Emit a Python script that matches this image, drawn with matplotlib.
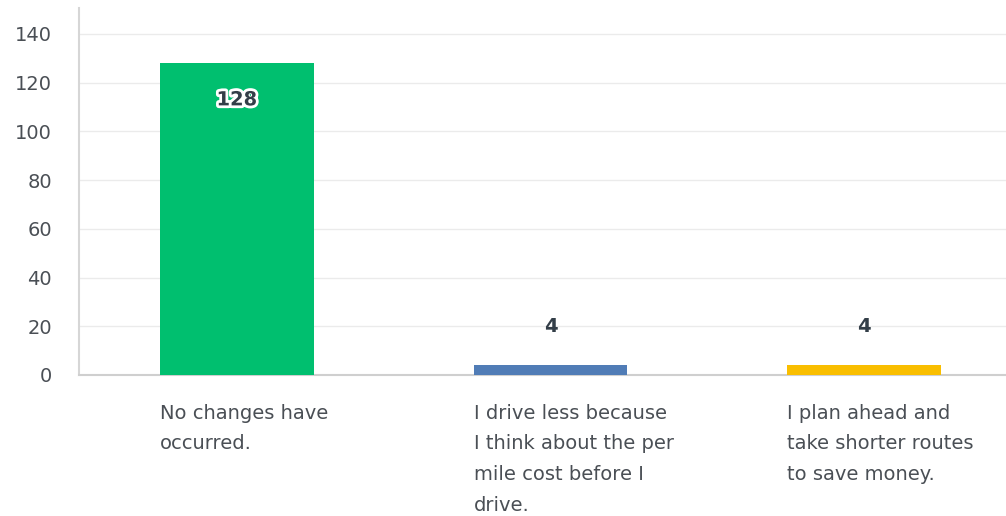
import matplotlib.pyplot as plt
import matplotlib.patheffects as pe
import matplotlib.transforms as mtransforms

categories = [
    "No changes have\noccurred.",
    "I drive less because\nI think about the per\nmile cost before I\ndrive.",
    "I plan ahead and\ntake shorter routes\nto save money.",
]
counts = [128, 4, 4]
colors = ["#00bf6f", "#507cb6", "#f9be00"]
yticks = [0, 20, 40, 60, 80, 100, 120, 140]

plt.rcParams["font.family"] = ["DejaVu Sans"]

fig = plt.figure(figsize=(10.06, 5.16), dpi=100)
ax = fig.add_axes([0.0785, 0.2733, 0.9215, 0.7112])

width = 0.49
xs = list(range(len(counts)))
bars = ax.bar(xs, counts, width=width, color=colors, zorder=3)

ax.set_xlim(-0.504, 2.453)
ax.set_ylim(0, 150.6)
ax.set_yticks(yticks)
ax.tick_params(axis="y", length=0, pad=19.5, labelsize=14, labelcolor="#4a4f55")
ax.set_xticks([])

ax.grid(axis="y", color="#ebebeb", linewidth=1, zorder=0)
for side in ["top", "right"]:
    ax.spines[side].set_visible(False)
ax.spines["left"].set_color("#d6d6d6")
ax.spines["left"].set_linewidth(1.5)
ax.spines["bottom"].set_color("#cfcfcf")
ax.spines["bottom"].set_linewidth(1.5)

# value labels: inside a tall bar, above a short one
for x, v in zip(xs, counts):
    if v > 20:
        ax.annotate(str(v), (x, v), xytext=(0, -26.5), textcoords="offset points",
                    ha="center", va="center", fontsize=14, fontweight="bold",
                    color="#333e48",
                    path_effects=[pe.withStroke(linewidth=4, foreground="white")],
                    zorder=4)
    else:
        ax.annotate(str(v), (x, v), xytext=(0, 28), textcoords="offset points",
                    ha="center", va="center", fontsize=14, fontweight="bold",
                    color="#333e48", zorder=4)

# category labels, left-aligned under each bar
trans = mtransforms.blended_transform_factory(ax.transData, ax.transAxes)
for x, name in zip(xs, categories):
    ax.text(x - width / 2, -0.078, name, transform=trans, ha="left", va="top",
            fontsize=14, color="#4a4f55", linespacing=1.79)

fig.savefig("out.png", dpi=100, facecolor="white")
